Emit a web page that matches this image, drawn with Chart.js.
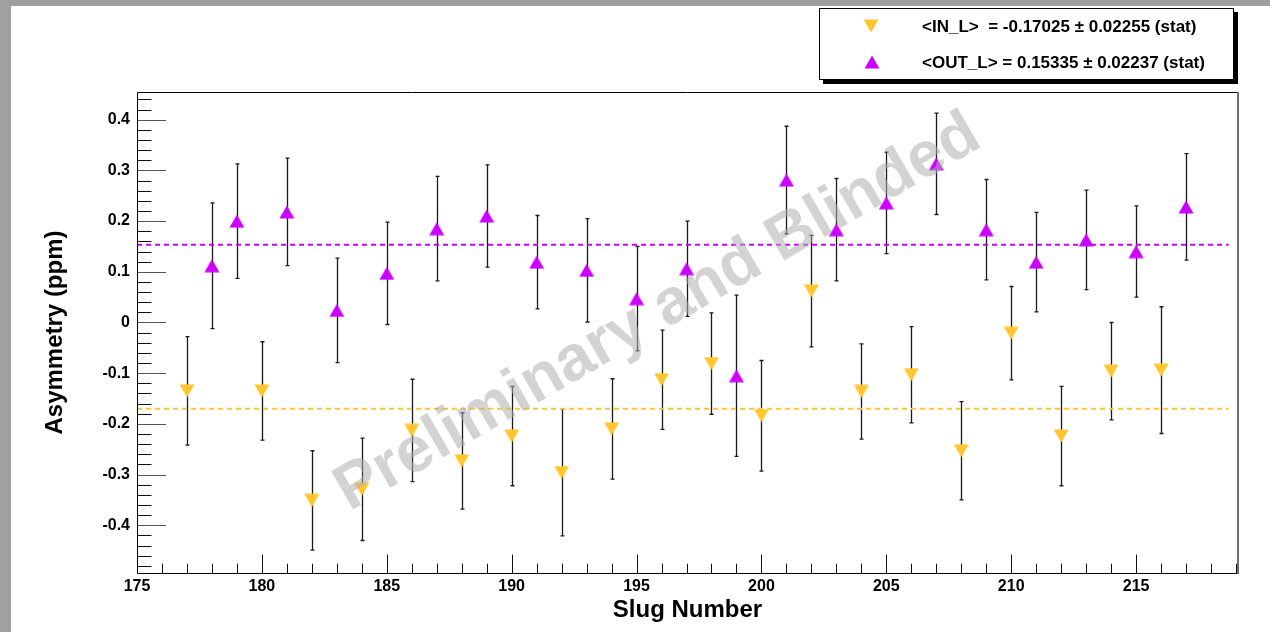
<!DOCTYPE html>
<html>
<head>
<meta charset="utf-8">
<title>Asymmetry vs Slug Number</title>
<script src="https://cdn.jsdelivr.net/npm/chart.js@4.4.1/dist/chart.umd.min.js"></script>
<style>
  html, body { margin: 0; padding: 0; background: #ffffff; overflow: hidden; }
  canvas { display: block; }
</style>
</head>
<body>
<canvas id="chart" width="1270" height="632"></canvas>
<script>
// ---- data: IN_L slugs (down triangles) ----
const inSlugs = [177, 180, 182, 184, 186, 188, 190, 192, 194, 196, 198, 200, 202, 204, 206, 208, 210, 212, 214, 216];
const inValues = [-0.135, -0.135, -0.351, -0.329, -0.213, -0.273, -0.224, -0.296, -0.210, -0.113,
                  -0.081, -0.184, 0.062, -0.136, -0.103, -0.253, -0.021, -0.224, -0.096, -0.094];
const inErrors = [0.107, 0.097, 0.098, 0.101, 0.101, 0.095, 0.098, 0.125, 0.099, 0.098,
                  0.100, 0.109, 0.110, 0.094, 0.095, 0.097, 0.092, 0.098, 0.096, 0.125];

// ---- data: OUT_L slugs (up triangles) ----
const outSlugs = [178, 179, 181, 183, 185, 187, 189, 191, 193, 195, 197, 199, 201, 203, 205, 207, 209, 211, 213, 215, 217];
const outValues = [0.112, 0.200, 0.218, 0.024, 0.097, 0.185, 0.210, 0.119, 0.103, 0.047, 0.106,
                   -0.105, 0.281, 0.183, 0.236, 0.313, 0.183, 0.119, 0.163, 0.140, 0.228];
const outErrors = [0.124, 0.113, 0.106, 0.103, 0.101, 0.103, 0.101, 0.092, 0.102, 0.103, 0.094,
                   0.159, 0.106, 0.101, 0.100, 0.100, 0.099, 0.098, 0.098, 0.090, 0.105];

// ---- fitted averages ----
const inMean = -0.17025, inMeanErr = 0.02255;
const outMean = 0.15335, outMeanErr = 0.02237;
const meanLineRange = [175, 218.7];

// ---- axes ----
const xMajorTicks = [175, 180, 185, 190, 195, 200, 205, 210, 215];
const yMajorTicks = [-0.4, -0.3, -0.2, -0.1, 0, 0.1, 0.2, 0.3, 0.4];
const xRange = [175, 219.08];
const yRange = [-0.4941, 0.4546];
const xMinorStep = 1;
const yMinorStep = 0.02;

const COLOR_IN = '#ffc62e';
const COLOR_OUT = '#cc00ff';
const FONT = "'Liberation Sans', Arial, Helvetica, sans-serif";

// Triangle marker sprites, centred on their bounding box
function triangleSprite(color, pointingDown) {
  const w = 16, h = 14;
  const c = document.createElement('canvas');
  c.width = w; c.height = h;
  const g = c.getContext('2d');
  g.fillStyle = color;
  g.beginPath();
  if (pointingDown) {
    g.moveTo(0.5, 0.5); g.lineTo(15.5, 0.5); g.lineTo(8, 13.5);
  } else {
    g.moveTo(8, 0.5); g.lineTo(15.5, 13.5); g.lineTo(0.5, 13.5);
  }
  g.closePath();
  g.fill();
  return c;
}
const downMarker = triangleSprite(COLOR_IN, true);
const upMarker = triangleSprite(COLOR_OUT, false);

const toPoints = (xs, ys) => xs.map((x, i) => ({ x: x, y: ys[i] }));

// Vertical error bars with small caps, drawn under the markers
const errorBarPlugin = {
  id: 'errorBars',
  beforeDatasetsDraw(chart) {
    const ctx = chart.ctx;
    const ys = chart.scales.y;
    ctx.save();
    ctx.strokeStyle = '#1a1a1a';
    ctx.lineWidth = 1.3;
    chart.data.datasets.forEach((ds, di) => {
      if (!ds.errors) return;
      const meta = chart.getDatasetMeta(di);
      meta.data.forEach((pt, i) => {
        const v = ds.data[i].y, e = ds.errors[i];
        const x = Math.round(pt.x) + 0.5;
        const yTop = ys.getPixelForValue(v + e);
        const yBot = ys.getPixelForValue(v - e);
        ctx.beginPath();
        ctx.moveTo(x, yTop); ctx.lineTo(x, yBot);
        ctx.moveTo(x - 2, yTop); ctx.lineTo(x + 2, yTop);
        ctx.moveTo(x - 2, yBot); ctx.lineTo(x + 2, yBot);
        ctx.stroke();
      });
    });
    ctx.restore();
  }
};

// Canvas background, frame and inward-pointing ticks
const framePlugin = {
  id: 'frame',
  beforeDraw(chart) {
    const ctx = chart.ctx;
    ctx.save();
    ctx.fillStyle = '#ffffff';
    ctx.fillRect(0, 0, chart.width, chart.height);
    ctx.fillStyle = '#a0a0a0';
    ctx.fillRect(0, 0, chart.width, 6);
    ctx.fillRect(0, 0, 11, chart.height);
    ctx.restore();
  },
  afterDatasetsDraw(chart) {
    const ctx = chart.ctx;
    const a = chart.chartArea;
    const xs = chart.scales.x, ys = chart.scales.y;
    ctx.save();
    ctx.lineWidth = 1;
    ctx.strokeStyle = '#111';
    // x ticks (up from the bottom axis)
    const xMinStart = Math.ceil(xRange[0] / xMinorStep) * xMinorStep;
    for (let v = xMinStart; v <= xRange[1] + 1e-9; v += xMinorStep) {
      const major = xMajorTicks.some(t => Math.abs(t - v) < 1e-6);
      const px = Math.round(xs.getPixelForValue(v)) + 0.5;
      const len = major ? 18.5 : 9.3;
      ctx.beginPath();
      ctx.moveTo(px, a.bottom); ctx.lineTo(px, a.bottom - len);
      ctx.stroke();
    }
    // y ticks (right from the left axis)
    const yMinStart = Math.ceil(yRange[0] / yMinorStep) * yMinorStep;
    for (let k = 0; ; k++) {
      const v = yMinStart + k * yMinorStep;
      if (v > yRange[1] + 1e-9) break;
      const major = yMajorTicks.some(t => Math.abs(t - v) < 1e-6);
      const py = Math.round(ys.getPixelForValue(v)) + 0.5;
      const len = major ? 29 : 14.5;
      ctx.strokeStyle = major ? '#555' : '#111';
      ctx.beginPath();
      ctx.moveTo(a.left, py); ctx.lineTo(a.left + len, py);
      ctx.stroke();
    }
    // frame
    ctx.strokeStyle = '#000';
    ctx.lineWidth = 1;
    ctx.beginPath();
    ctx.moveTo(a.right, a.top + 0.5); ctx.lineTo(a.left + 0.5, a.top + 0.5);
    ctx.lineTo(a.left + 0.5, a.bottom + 0.5); ctx.lineTo(a.right, a.bottom + 0.5);
    ctx.stroke();
    ctx.strokeStyle = '#6e6e6e';
    ctx.lineWidth = 2;
    ctx.beginPath();
    ctx.moveTo(a.right, a.top); ctx.lineTo(a.right, a.bottom + 1);
    ctx.stroke();
    ctx.restore();
  },
  afterDraw(chart) {
    const ctx = chart.ctx;
    // watermark over the plot
    ctx.save();
    ctx.translate(658, 313);
    ctx.rotate(-30 * Math.PI / 180);
    ctx.font = 'bold 64px ' + FONT;
    ctx.fillStyle = 'rgba(175,175,175,0.55)';
    ctx.textAlign = 'center';
    ctx.textBaseline = 'middle';
    ctx.fillText('Preliminary and Blinded', 0, 0);
    ctx.restore();

    // legend box with drop shadow
    ctx.save();
    const bx = 819, by = 8, bw = 415, bh = 72;
    ctx.fillStyle = '#000';
    ctx.fillRect(bx + 4, by + 4, bw, bh);
    ctx.fillStyle = '#fff';
    ctx.fillRect(bx, by, bw, bh);
    ctx.strokeStyle = '#000';
    ctx.lineWidth = 1;
    ctx.strokeRect(bx + 0.5, by + 0.5, bw - 1, bh - 1);
    ctx.drawImage(downMarker, 871 - 8, 26 - 7);
    ctx.drawImage(upMarker, 872 - 8, 62 - 7);
    ctx.font = 'bold 17px ' + FONT;
    ctx.fillStyle = '#000';
    ctx.textAlign = 'left';
    ctx.textBaseline = 'middle';
    ctx.fillText('<IN_L>  = ' + inMean.toFixed(5) + ' \u00b1 ' + inMeanErr.toFixed(5) + ' (stat)', 922, 27);
    ctx.fillText('<OUT_L> = ' + outMean.toFixed(5) + ' \u00b1 ' + outMeanErr.toFixed(5) + ' (stat)', 922, 63);
    ctx.restore();
  }
};

const chart = new Chart(document.getElementById('chart'), {
  type: 'scatter',
  data: {
    datasets: [
      {
        label: 'OUT_L mean',
        type: 'line',
        data: meanLineRange.map(x => ({ x: x, y: outMean })),
        borderColor: COLOR_OUT,
        borderWidth: 2,
        borderDash: [5, 4],
        pointRadius: 0,
        fill: false
      },
      {
        label: 'IN_L mean',
        type: 'line',
        data: meanLineRange.map(x => ({ x: x, y: inMean })),
        borderColor: COLOR_IN,
        borderWidth: 2,
        borderDash: [5, 4],
        pointRadius: 0,
        fill: false
      },
      {
        label: 'IN_L',
        data: toPoints(inSlugs, inValues),
        errors: inErrors,
        pointStyle: downMarker,
        pointRadius: 8,
        backgroundColor: COLOR_IN,
        borderColor: COLOR_IN
      },
      {
        label: 'OUT_L',
        data: toPoints(outSlugs, outValues),
        errors: outErrors,
        pointStyle: upMarker,
        pointRadius: 8,
        backgroundColor: COLOR_OUT,
        borderColor: COLOR_OUT
      }
    ]
  },
  options: {
    responsive: false,
    animation: false,
    devicePixelRatio: 1,
    layout: { padding: { left: 0, top: 92, right: 32, bottom: 0 } },
    plugins: { legend: { display: false }, tooltip: { enabled: false } },
    scales: {
      x: {
        type: 'linear',
        min: xRange[0],
        max: xRange[1],
        grid: { display: false, drawTicks: false },
        border: { display: false },
        afterBuildTicks: s => { s.ticks = xMajorTicks.map(v => ({ value: v })); },
        afterFit: s => { s.height = 59; },
        ticks: {
          color: '#000',
          padding: 4,
          maxRotation: 0,
          font: { family: FONT, size: 16, weight: 'bold' },
          callback: v => String(v)
        },
        title: {
          display: true,
          text: 'Slug Number',
          color: '#000',
          font: { family: FONT, size: 24, weight: 'bold' },
          padding: { top: 0, bottom: 7 }
        }
      },
      y: {
        type: 'linear',
        min: yRange[0],
        max: yRange[1],
        grid: { display: false, drawTicks: false },
        border: { display: false },
        afterBuildTicks: s => { s.ticks = yMajorTicks.map(v => ({ value: v })); },
        afterFit: s => { s.width = 137; },
        ticks: {
          color: '#000',
          padding: 7,
          font: { family: FONT, size: 16, weight: 'bold' },
          callback: v => (Math.abs(v) < 1e-9 ? '0' : v.toFixed(1))
        },
        title: {
          display: true,
          text: 'Asymmetry (ppm)',
          color: '#000',
          font: { family: FONT, size: 24, weight: 'bold' },
          padding: { top: 41, bottom: 0 }
        }
      }
    }
  },
  plugins: [framePlugin, errorBarPlugin]
});
</script>
</body>
</html>
